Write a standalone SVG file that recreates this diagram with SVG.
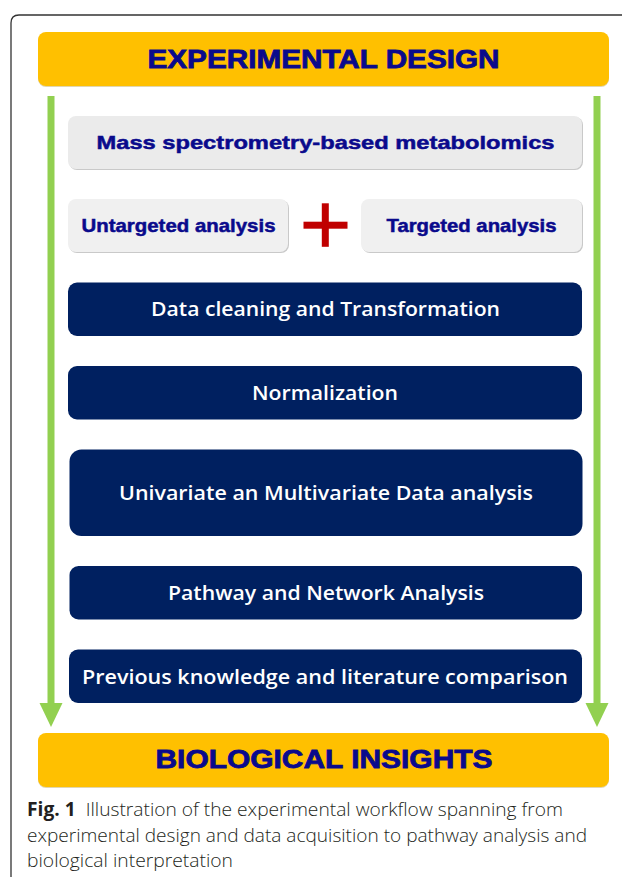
<svg xmlns="http://www.w3.org/2000/svg" width="622" height="877" viewBox="0 0 622 877">
<style>
.title{font-family:"Liberation Sans",Arial,sans-serif;font-weight:bold;fill:#0a0a8c;stroke:#0a0a8c;stroke-width:0.8;text-anchor:middle}
.gtxt{font-family:"Liberation Sans",Arial,sans-serif;font-weight:bold;fill:#0a0a8c;stroke:#0a0a8c;stroke-width:0.5;text-anchor:middle;font-size:19px}
.wtxt{font-family:"Open Sans","DejaVu Sans",sans-serif;font-weight:600;fill:#ffffff;text-anchor:middle;font-size:20px}
.orange{fill:#ffc000}
.navy{fill:#002060}
.shadow{fill:#c9c9c9}
.cap{font-family:"Open Sans","Liberation Sans",sans-serif;font-weight:300;fill:#231f20;font-size:19px}
</style>
<rect width="622" height="877" fill="#ffffff"/>
<path d="M11,877 L11,23 Q11,15 19,15 L622,15" fill="none" stroke="#333333" stroke-width="1.3"/>

<g id="connectors">
<line x1="51" y1="96" x2="51" y2="703" stroke="#92d050" stroke-width="7"/>
<path d="M39.5,703 L62.5,703 L51,727 Z" fill="#92d050"/>
<line x1="597" y1="96" x2="597" y2="703" stroke="#92d050" stroke-width="7"/>
<path d="M585.5,703 L608.5,703 L597,727 Z" fill="#92d050"/>
</g>

<g id="experimental-design">
<rect x="38" y="33" width="571" height="54" rx="8" fill="#e0d6b0"/>
<rect class="orange" x="38" y="32" width="571" height="54" rx="8"/>
<text class="title" x="323.5" y="68" font-size="26" textLength="352" lengthAdjust="spacingAndGlyphs">EXPERIMENTAL DESIGN</text>
</g>

<g id="mass-spec">
<rect class="shadow" x="69" y="117" width="514" height="53" rx="8"/>
<rect x="68" y="116" width="514" height="53" rx="8" fill="#ebebeb"/>
<text class="gtxt" x="325.5" y="148.5" textLength="458" lengthAdjust="spacingAndGlyphs">Mass spectrometry-based metabolomics</text>
</g>

<g id="untargeted">
<rect class="shadow" x="69" y="200" width="220" height="53" rx="8"/>
<rect x="68" y="199" width="220" height="53" rx="8" fill="#f0f0f0"/>
<text class="gtxt" x="178.5" y="232" textLength="194" lengthAdjust="spacingAndGlyphs">Untargeted analysis</text>
</g>

<g id="plus">
<rect x="303.5" y="221.7" width="44" height="7" fill="#c00000"/>
<rect x="321.8" y="203.3" width="7" height="43.5" fill="#c00000"/>
</g>

<g id="targeted">
<rect class="shadow" x="362" y="200" width="221" height="53" rx="8"/>
<rect x="361" y="199" width="221" height="53" rx="8" fill="#f0f0f0"/>
<text class="gtxt" x="471.5" y="232" textLength="170" lengthAdjust="spacingAndGlyphs">Targeted analysis</text>
</g>

<g id="data-cleaning">
<rect class="navy" x="68" y="282.5" width="514" height="53.5" rx="9"/>
<text class="wtxt" x="325.5" y="316" textLength="349" lengthAdjust="spacingAndGlyphs">Data cleaning and Transformation</text>
</g>

<g id="normalization">
<rect class="navy" x="68" y="366" width="514" height="53.5" rx="9"/>
<text class="wtxt" x="325" y="400" textLength="146" lengthAdjust="spacingAndGlyphs">Normalization</text>
</g>

<g id="univariate">
<rect class="navy" x="69.5" y="449.5" width="513" height="86.5" rx="12"/>
<text class="wtxt" x="326" y="500" textLength="414" lengthAdjust="spacingAndGlyphs">Univariate an Multivariate Data analysis</text>
</g>

<g id="pathway">
<rect class="navy" x="69.5" y="566" width="512.5" height="53.5" rx="9"/>
<text class="wtxt" x="326" y="600" textLength="316" lengthAdjust="spacingAndGlyphs">Pathway and Network Analysis</text>
</g>

<g id="previous-knowledge">
<rect class="navy" x="69" y="649.5" width="513" height="53.5" rx="9"/>
<text class="wtxt" x="325" y="684" textLength="486" lengthAdjust="spacingAndGlyphs">Previous knowledge and literature comparison</text>
</g>

<g id="biological-insights">
<rect x="38" y="734" width="571" height="54" rx="8" fill="#e0d6b0"/>
<rect class="orange" x="38" y="733" width="571" height="54" rx="8"/>
<text class="title" x="324" y="768" font-size="26" textLength="337" lengthAdjust="spacingAndGlyphs">BIOLOGICAL INSIGHTS</text>
</g>

<g id="caption">
<text class="cap" x="27" y="816" textLength="536" lengthAdjust="spacingAndGlyphs" xml:space="preserve"><tspan font-weight="bold">Fig. 1</tspan>  Illustration of the experimental workflow spanning from</text>
<text class="cap" x="27" y="841.5" textLength="560" lengthAdjust="spacingAndGlyphs">experimental design and data acquisition to pathway analysis and</text>
<text class="cap" x="27" y="867" textLength="206" lengthAdjust="spacingAndGlyphs">biological interpretation</text>
</g>
</svg>
